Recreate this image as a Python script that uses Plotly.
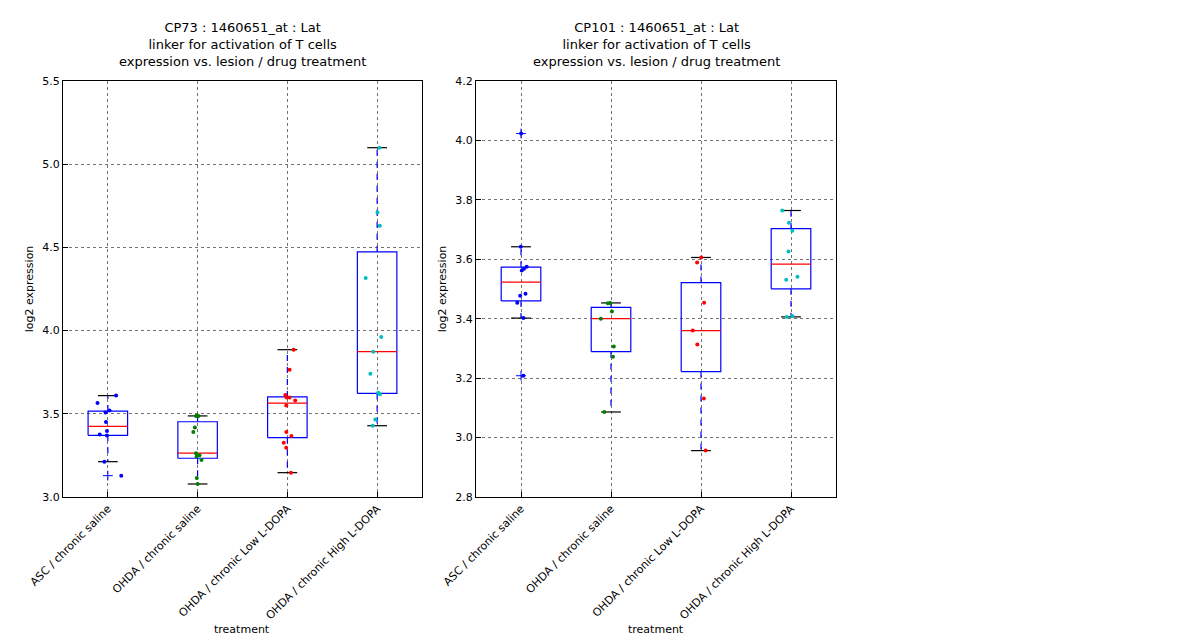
import numpy as np
import plotly.graph_objects as go

categories = ["ASC / chronic saline", "OHDA / chronic saline",
              "OHDA / chronic Low L-DOPA", "OHDA / chronic High L-DOPA"]
colors = ["blue", "green", "red", "#00BFBF"]

cp73 = [
    [3.609, 3.565, 3.519, 3.507, 3.451, 3.397, 3.375, 3.369, 3.212, 3.128],
    [3.487, 3.487, 3.487, 3.417, 3.391, 3.263, 3.251, 3.243, 3.222, 3.114, 3.078],
    [3.885, 3.765, 3.613, 3.597, 3.597, 3.579, 3.549, 3.391, 3.367, 3.326, 3.296, 3.146],
    [5.099, 4.709, 4.630, 4.316, 3.962, 3.873, 3.741, 3.627, 3.617, 3.465, 3.428],
]
cp101 = [
    [4.023, 3.642, 3.575, 3.568, 3.562, 3.484, 3.477, 3.454, 3.402, 3.208],
    [3.453, 3.452, 3.424, 3.400, 3.306, 3.272, 3.086],
    [3.606, 3.589, 3.454, 3.360, 3.313, 3.131, 2.956],
    [3.764, 3.723, 3.696, 3.626, 3.541, 3.531, 3.409, 3.406],
]
titles = ["CP73 : 1460651_at : Lat<br>linker for activation of T cells<br>expression vs. lesion / drug treatment",
          "CP101 : 1460651_at : Lat<br>linker for activation of T cells<br>expression vs. lesion / drug treatment"]
yranges = [[3.0, 5.5], [2.8, 4.2]]
ytickvals = [[3.0, 3.5, 4.0, 4.5, 5.0, 5.5], [2.8, 3.0, 3.2, 3.4, 3.6, 3.8, 4.0, 4.2]]

rng = np.random.default_rng(3)
fig = go.Figure()
domains = [[0.0458, 0.345], [0.39, 0.69]]
for p, data in enumerate([cp73, cp101]):
    xa = "x" if p == 0 else "x2"
    ya = "y" if p == 0 else "y2"
    for i, vals in enumerate(data):
        v = np.array(vals)
        pos = i + 1
        q1, med, q3 = np.percentile(v, [25, 50, 75])
        iqr = q3 - q1
        lo = v[v >= q1 - 1.5 * iqr].min()
        hi = v[v <= q3 + 1.5 * iqr].max()
        hw = 0.22
        fig.add_trace(go.Scatter(x=[pos-hw, pos+hw, pos+hw, pos-hw, pos-hw], y=[q1, q1, q3, q3, q1],
                                 mode="lines", line=dict(color="blue", width=1.2), xaxis=xa, yaxis=ya, showlegend=False))
        fig.add_trace(go.Scatter(x=[pos-hw, pos+hw], y=[med, med], mode="lines",
                                 line=dict(color="red", width=1.2), xaxis=xa, yaxis=ya, showlegend=False))
        fig.add_trace(go.Scatter(x=[pos, pos, None, pos, pos], y=[q3, hi, None, q1, lo], mode="lines",
                                 line=dict(color="blue", width=1.2, dash="6px,6px"), xaxis=xa, yaxis=ya, showlegend=False))
        fig.add_trace(go.Scatter(x=[pos-hw/2, pos+hw/2, None, pos-hw/2, pos+hw/2], y=[hi, hi, None, lo, lo],
                                 mode="lines", line=dict(color="black", width=1.2), xaxis=xa, yaxis=ya, showlegend=False))
        out = v[(v < lo) | (v > hi)]
        if len(out):
            fig.add_trace(go.Scatter(x=[pos]*len(out), y=out, mode="markers",
                                     marker=dict(symbol="cross-thin", size=7, line=dict(color="blue", width=1)),
                                     xaxis=xa, yaxis=ya, showlegend=False))
        jit = pos + rng.normal(0, 0.045, len(v))
        fig.add_trace(go.Scatter(x=jit, y=v, mode="markers", marker=dict(color=colors[i], size=4),
                                 xaxis=xa, yaxis=ya, showlegend=False))
    fig.add_annotation(text=titles[p], x=sum(domains[p])/2, y=1.0, xref="paper", yref="paper",
                       xanchor="center", yanchor="top", yshift=-10, showarrow=False,
                       font=dict(size=13, color="black"))
    fig.add_annotation(text="treatment", x=sum(domains[p])/2, y=0.0, xref="paper", yref="paper",
                       xanchor="center", yanchor="bottom", yshift=10, showarrow=False, font=dict(size=11))

axcommon = dict(showline=True, mirror=True, linecolor="black", linewidth=1, ticks="inside",
                tickcolor="black", showgrid=True, gridcolor="rgba(0,0,0,0.55)", griddash="dot", zeroline=False,
                tickfont=dict(size=11, color="black"), automargin=False)
for p in range(2):
    sx = "" if p == 0 else "2"
    fig.update_layout(**{
        "xaxis" + sx: dict(axcommon, domain=domains[p], range=[0.5, 4.5], tickvals=[1, 2, 3, 4],
                           ticktext=categories, tickangle=-45, anchor="y" + sx),
        "yaxis" + sx: dict(axcommon, domain=[0.236, 0.886], range=yranges[p], tickvals=ytickvals[p],
                           tickformat=".1f", anchor="x" + sx,
                           title=dict(text="log2 expression", font=dict(size=11), standoff=6)),
    })
fig.update_layout(width=1200, height=640, margin=dict(l=0, r=0, t=0, b=0, autoexpand=False),
                  plot_bgcolor="white", paper_bgcolor="white",
                  font=dict(family="DejaVu Sans", color="black"))
fig.write_html("out.html")
